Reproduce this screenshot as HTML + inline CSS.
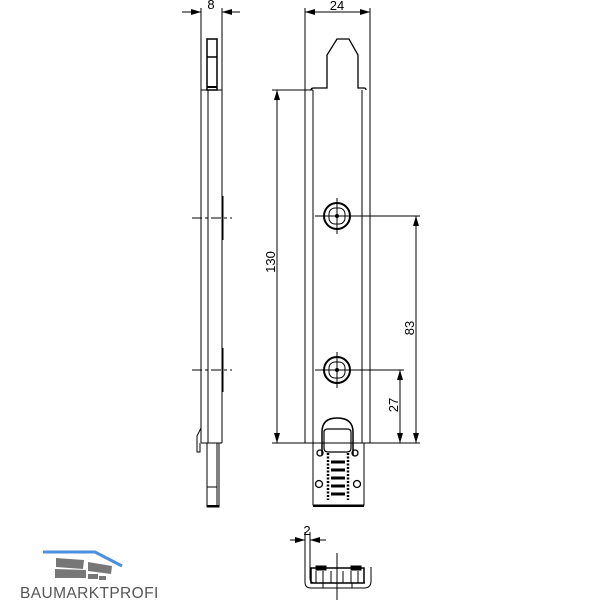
<!DOCTYPE html>
<html><head><style>body{margin:0;background:#fff}svg{display:block}</style></head><body>
<svg width="600" height="600" viewBox="0 0 600 600" xmlns="http://www.w3.org/2000/svg" font-family="Liberation Sans, sans-serif">
<defs><marker id="a" viewBox="0 0 10 6" refX="10" refY="3" markerWidth="10" markerHeight="6" orient="auto-start-reverse" markerUnits="userSpaceOnUse"><path d="M0,0L10,3L0,6z" fill="#000"/></marker></defs>
<g stroke="#000" fill="none" stroke-width="1">
<!-- side view -->
<line x1="201" y1="8" x2="201" y2="443"/><line x1="222" y1="8" x2="222" y2="443"/><line x1="208" y1="90" x2="208" y2="443"/>
<line x1="182" y1="12" x2="201" y2="12" marker-end="url(#a)"/><line x1="240" y1="12" x2="222" y2="12" marker-end="url(#a)"/>
<rect x="207" y="39" width="10" height="51" stroke-width="1.5"/><line x1="207" y1="57" x2="217" y2="57" stroke-width="1.5"/><line x1="207" y1="87" x2="217" y2="87" stroke-width="2"/>
<line x1="201" y1="90" x2="222" y2="90"/>
<line x1="222.5" y1="196" x2="222.5" y2="240" stroke-width="2"/><line x1="222.5" y1="348" x2="222.5" y2="392" stroke-width="2"/>
<line x1="192" y1="218" x2="232" y2="218" stroke-dasharray="10,3,3,3"/><line x1="192" y1="370" x2="232" y2="370" stroke-dasharray="10,3,3,3"/>
<line x1="201" y1="443" x2="222" y2="443"/>
<path d="M207,443V507H219V443M217,443V507" /><line x1="207" y1="487" x2="217" y2="487"/><line x1="207" y1="506" x2="219" y2="506" stroke-width="2"/>
<path d="M201,428L197,436V452H200V443"/>
<!-- front view -->
<line x1="305" y1="8" x2="305" y2="443"/><line x1="370" y1="8" x2="370" y2="443"/>
<line x1="305" y1="12" x2="370" y2="12" marker-start="url(#a)" marker-end="url(#a)"/>
<line x1="313" y1="90" x2="313" y2="443"/><line x1="362" y1="90" x2="362" y2="443"/>
<path d="M311,90Q311,88 314,88H327V55L337,39H349L358,55V88H364Q366,88 366,90" stroke-width="1.3"/>
<line x1="272" y1="90" x2="313" y2="90"/><line x1="272" y1="443" x2="420" y2="443"/>
<line x1="277" y1="90" x2="277" y2="443" marker-start="url(#a)" marker-end="url(#a)"/>
<line x1="315" y1="216" x2="420" y2="216"/><line x1="315" y1="370" x2="404" y2="370"/>
<line x1="416" y1="216" x2="416" y2="443" marker-start="url(#a)" marker-end="url(#a)"/>
<line x1="400" y1="370" x2="400" y2="443" marker-start="url(#a)" marker-end="url(#a)"/>
<g stroke-width="2"><circle cx="337" cy="216" r="13"/><circle cx="337" cy="370" r="13"/></g>
<rect x="329" y="208" width="16" height="16" rx="6"/><rect x="329" y="362" width="16" height="16" rx="6"/>
<line x1="337" y1="198" x2="337" y2="234"/><line x1="337" y1="352" x2="337" y2="388"/>
<circle cx="337" cy="216" r="1.5" fill="#000"/><circle cx="337" cy="370" r="1.5" fill="#000"/>
<path d="M313,443V505H364V443"/><line x1="313" y1="506" x2="364" y2="506" stroke-width="2"/>
<path d="M322,455V432Q322,418 337,418Q353,418 353,432V455" stroke-width="1.5"/>
<path d="M324,432Q324,429 328,429H347Q351,429 351,432V448Q351,452 347,452H328Q324,452 324,448Z" stroke-width="1.2"/>
<g stroke-width="1.3"><circle cx="320" cy="453" r="3"/><circle cx="355" cy="453" r="3"/><circle cx="319" cy="484" r="3.5"/><circle cx="357" cy="484" r="3.5"/></g>
<path d="M328,453V500M348,453V500" stroke-dasharray="2,1.5" stroke-width="2.5"/>
<g stroke-width="3"><line x1="331" y1="462" x2="345" y2="462"/><line x1="331" y1="470" x2="345" y2="470"/><line x1="331" y1="478" x2="345" y2="478"/><line x1="331" y1="486" x2="345" y2="486"/><line x1="331" y1="494" x2="345" y2="494"/></g>
<!-- bottom view -->
<line x1="290" y1="540" x2="305" y2="540" marker-end="url(#a)"/><line x1="326" y1="540" x2="310" y2="540" marker-end="url(#a)"/>
<path d="M305,532V582Q305,588 311,588H364Q371,588 371,581V567"/><path d="M310,532V578Q310,583 315,583H365"/>
<rect x="311" y="568" width="53" height="15" stroke-width="1.5"/>
<path d="M316,571V583M323,571V583M331,571V583M343,571V583M351,571V583M358,571V583"/>
<rect x="316" y="566" width="10" height="4" fill="#000"/><rect x="351" y="566" width="10" height="4" fill="#000"/>
<path d="M323,583V588H352V583"/>
<line x1="337" y1="553" x2="337" y2="600"/>
</g>
<g font-size="13" fill="#000">
<text x="211" y="9" text-anchor="middle">8</text>
<text x="337" y="10" text-anchor="middle">24</text>
<text x="307" y="535" text-anchor="middle">2</text>
<text transform="translate(275,262) rotate(-90)" text-anchor="middle">130</text>
<text transform="translate(414,328) rotate(-90)" text-anchor="middle">83</text>
<text transform="translate(398,405) rotate(-90)" text-anchor="middle">27</text>
</g>
<!-- logo -->
<path d="M43,552H95L122,566" stroke="#4a8fe0" stroke-width="3" fill="none"/>
<g fill="#777"><path d="M56,558L84,560L83,569L56,567Z"/><path d="M88,562L112,566L111,574L88,571Z"/><path d="M55,569L86,570L86,578L55,578Z"/><path d="M88,574L98,574L98,579L88,579Z"/><path d="M99,576L106,576L106,580L99,580Z"/></g>
<text x="20" y="598" font-size="15.5" fill="#555" letter-spacing="0.4">BAUMARKTPROFI</text>
</svg>
</body></html>
